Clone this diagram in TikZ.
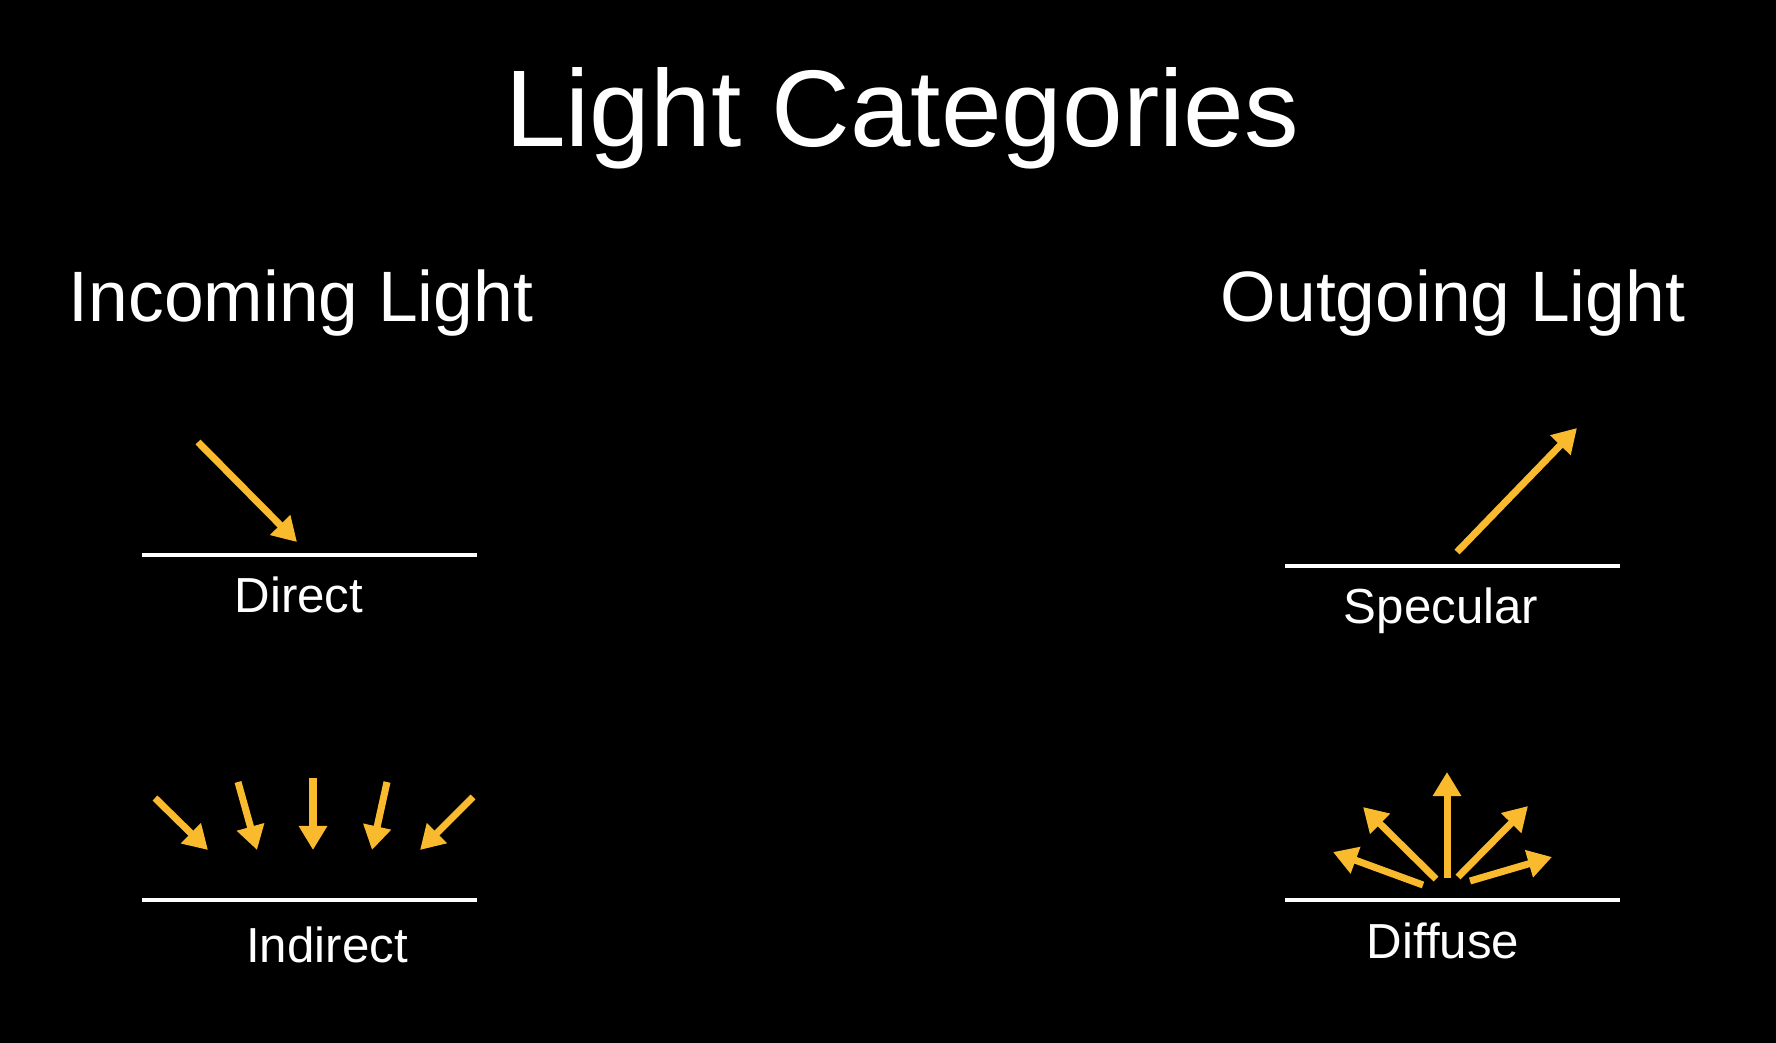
\documentclass[tikz,border=0pt]{standalone}
\usepackage{fontspec}
\setmainfont{Liberation Sans}
\usepackage{xcolor}
\usepackage{tikz}
\usetikzlibrary{positioning,arrows.meta}
\definecolor{raygold}{RGB}{250,186,46}

\begin{document}
\begin{tikzpicture}[
  x=0.01cm, y=-0.01cm,
  title/.style={text=white, anchor=base, inner sep=0pt, font=\fontsize{31}{36}\selectfont},
  heading/.style={text=white, anchor=base, inner sep=0pt, font=\fontsize{20.3}{24}\selectfont},
  caption/.style={text=white, anchor=base, inner sep=0pt, font=\fontsize{14}{17}\selectfont},
  surface/.style={draw=white, line width=1.4pt},
  ray/.style={draw=raygold, line width=2pt, -{Triangle[length=0.24cm,width=0.27cm]}}
]
\fill[black] (0,0) rectangle (1776,1043);
\useasboundingbox (0,0) rectangle (1776,1043);

% titles
\node[title] (main) at (902,147) {Light Categories};
\node[heading] (incoming) at (301,322) {Incoming Light};
\node[heading] (outgoing) at (1453,322) {Outgoing Light};

% incoming side
\draw[surface] (142,555) coordinate (dirL) -- (477,555) coordinate (dirR);
\node[caption] (direct) at (299,612) {Direct};
\coordinate (dir-s) at (198,442);
\coordinate (dir-t) at (297,542);
\draw[ray] (dir-s) -- (dir-t);

\draw[surface] (142,900) coordinate (indL) -- (477,900) coordinate (indR);
\node[caption] (indirect) at (327,962) {Indirect};
\foreach \sx/\sy/\tx [count=\i] in {155/798/208, 238/782/257, 313/778/313, 387/782/372, 473/797/420} {
  \coordinate (ind\i-s) at (\sx,\sy);
  \coordinate (ind\i-t) at (\tx,850);
  \draw[ray] (ind\i-s) -- (ind\i-t);
}

% outgoing side
\draw[surface] (1285,566) coordinate (specL) -- (1620,566) coordinate (specR);
\node[caption] (specular) at (1441,623) {Specular};
\coordinate (spec-s) at (1457,552);
\coordinate (spec-t) at (1577,428);
\draw[ray] (spec-s) -- (spec-t);

\draw[surface] (1285,900) coordinate (difL) -- (1620,900) coordinate (difR);
\node[caption] (diffuse) at (1443,958) {Diffuse};
\foreach \sx/\sy/\tx/\ty [count=\i] in {1423/885/1333/852, 1436/879/1363/807, 1447/878/1447/772, 1458/877/1528/806, 1470/881/1552/857} {
  \coordinate (dif\i-s) at (\sx,\sy);
  \coordinate (dif\i-t) at (\tx,\ty);
  \draw[ray] (dif\i-s) -- (dif\i-t);
}
\end{tikzpicture}
\end{document}
